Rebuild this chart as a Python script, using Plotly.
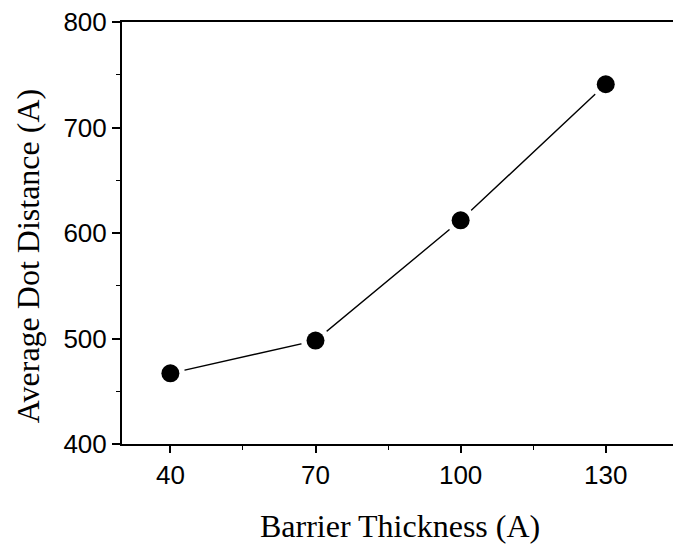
import plotly.graph_objects as go

barrier_thickness = [40, 70, 100, 130]
dot_distance = [467, 498, 612, 741]

x_tick_vals = [40, 70, 100, 130]
x_tick_text = ["40", "70", "100", "130"]
y_tick_vals = [400, 500, 600, 700, 800]
y_tick_text = ["400", "500", "600", "700", "800"]

x_title = "Barrier Thickness (A)"
y_title = "Average Dot Distance (A)"

fig = go.Figure()
fig.add_trace(go.Scatter(x=barrier_thickness, y=dot_distance, mode="lines",
                         line=dict(color="black", width=1.4), hoverinfo="skip"))
fig.add_trace(go.Scatter(x=barrier_thickness, y=dot_distance, mode="markers",
                         marker=dict(color="white", size=29, line=dict(width=0)), hoverinfo="skip"))
fig.add_trace(go.Scatter(x=barrier_thickness, y=dot_distance, mode="markers",
                         marker=dict(color="black", size=18, line=dict(width=0))))

tick_font = dict(family="Liberation Sans, Arial", size=26, color="black")
title_font = dict(family="Liberation Serif, Times New Roman", size=32, color="black")
fig.update_layout(
    width=673, height=544,
    margin=dict(l=122, r=0, t=22, b=100),
    paper_bgcolor="white", plot_bgcolor="white",
    showlegend=False,
    xaxis=dict(range=[30, 143.9], tickvals=x_tick_vals, ticktext=x_tick_text,
               ticks="outside", ticklen=7, tickwidth=1.5, tickcolor="black",
               minor=dict(dtick=15, tick0=40, ticks="outside", ticklen=4, tickwidth=1.2, tickcolor="black"),
               showline=True, linecolor="black", linewidth=2, mirror=True,
               showgrid=False, zeroline=False, tickfont=tick_font),
    yaxis=dict(range=[400, 800], tickvals=y_tick_vals, ticktext=y_tick_text,
               ticks="outside", ticklen=8, tickwidth=1.5, tickcolor="black",
               minor=dict(dtick=50, tick0=400, ticks="outside", ticklen=4, tickwidth=1.2, tickcolor="black"),
               showline=True, linecolor="black", linewidth=2, mirror=False,
               showgrid=False, zeroline=False, tickfont=tick_font),
    annotations=[
        dict(text=y_title, xref="paper", yref="paper", x=-0.1706, y=0.445,
             xanchor="center", yanchor="middle", textangle=-90, showarrow=False,
             font=title_font),
        dict(text=x_title, xref="paper", yref="paper", x=0.5045, y=-0.194,
             xanchor="center", yanchor="middle", showarrow=False,
             font=title_font),
    ],
)

fig.write_html("out.html", config={"displayModeBar": False},
               post_script="document.body.style.margin='0';document.body.style.overflow='hidden';")
